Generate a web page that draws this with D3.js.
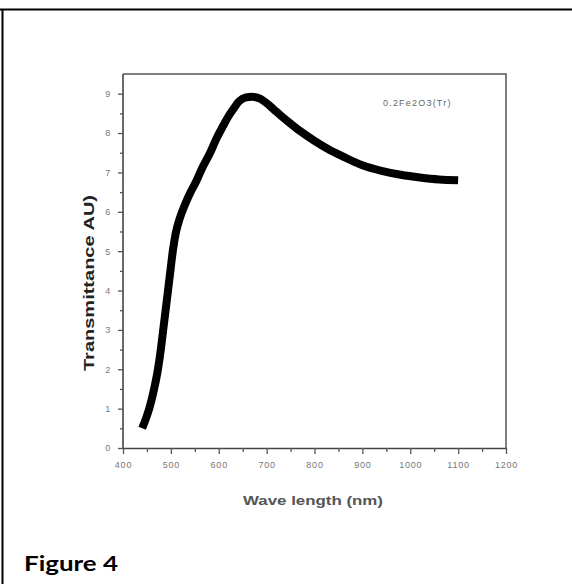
<!DOCTYPE html>
<html>
<head>
<meta charset="utf-8">
<script src="https://cdn.jsdelivr.net/npm/d3@7/dist/d3.min.js"></script>
<style>
  html, body { margin: 0; padding: 0; background: #fff; }
  svg { display: block; }
</style>
</head>
<body>
<svg id="chart" width="572" height="584"></svg>
<script>
// ---- data ----
const wavelength = [440, 448, 456, 465, 473, 479, 484, 489, 494, 499, 504, 510, 519, 530, 540, 552, 565, 582, 596, 609, 620, 630, 642, 655, 670, 685, 700, 715, 730, 750, 770, 800, 830, 860, 900, 940, 980, 1020, 1060, 1100];
const transmittance = [0.5, 0.75, 1.05, 1.5, 2.0, 2.5, 3.0, 3.5, 4.0, 4.5, 5.0, 5.45, 5.85, 6.2, 6.47, 6.75, 7.1, 7.5, 7.88, 8.18, 8.42, 8.6, 8.8, 8.9, 8.92, 8.88, 8.76, 8.6, 8.44, 8.24, 8.05, 7.8, 7.58, 7.4, 7.18, 7.04, 6.94, 6.87, 6.82, 6.8];
const xTicks = [400, 500, 600, 700, 800, 900, 1000, 1100, 1200];
const yTicks = [0, 1, 2, 3, 4, 5, 6, 7, 8, 9];
const seriesLabel = "0.2Fe2O3(Tr)";
const xTitle = "Wave length (nm)";
const yTitle = "Transmittance AU)";
const figureCaption = "Figure 4";

const svg = d3.select("#chart");

// outer page border (top and left)
svg.append("line").attr("x1", 0).attr("x2", 572).attr("y1", 9.5).attr("y2", 9.5)
  .attr("stroke", "#000").attr("stroke-width", 2);
svg.append("line").attr("x1", 2.5).attr("x2", 2.5).attr("y1", 9).attr("y2", 584)
  .attr("stroke", "#000").attr("stroke-width", 2);

const L = 123, R = 506, T = 74, B = 448;
const x = d3.scaleLinear().domain([400, 1200]).range([L, R]);
const y = d3.scaleLinear().domain([0, 9.5]).range([B, T]);

// frame top and right
svg.append("path")
  .attr("d", `M${L},${T}H${R}V${B}`)
  .attr("fill", "none").attr("stroke", "#555").attr("stroke-width", 1.5);

// minor ticks
const xMinor = d3.range(450, 1200, 100);
const yMinor = d3.range(0.5, 9.5, 1);

const xAxis = d3.axisBottom(x).tickValues(xTicks).tickSize(6).tickSizeOuter(0).tickPadding(8)
  .tickFormat(d3.format("d"));
const gx = svg.append("g").attr("transform", `translate(0,${B})`).call(xAxis);
const gxm = svg.append("g").attr("transform", `translate(0,${B})`)
  .call(d3.axisBottom(x).tickValues(xMinor).tickSize(4).tickSizeOuter(0).tickFormat(""));
gxm.select(".domain").remove();

const yAxis = d3.axisLeft(y).tickValues(yTicks).tickSize(5).tickSizeOuter(0).tickPadding(7)
  .tickFormat(d3.format("d"));
const gy = svg.append("g").attr("transform", `translate(${L},0)`).call(yAxis);
const gym = svg.append("g").attr("transform", `translate(${L},0)`)
  .call(d3.axisLeft(y).tickValues(yMinor).tickSize(3).tickSizeOuter(0).tickFormat(""));
gym.select(".domain").remove();

[gx, gy, gxm, gym].forEach(g => {
  g.selectAll(".domain").attr("stroke", "#444").attr("stroke-width", 1.6);
  g.selectAll(".tick line").attr("stroke", "#555").attr("stroke-width", 1.3);
  g.selectAll("text").attr("fill", "#777").attr("font-family", "Liberation Sans, Arial, sans-serif")
    .attr("font-size", 9).attr("letter-spacing", 0.8);
});
gy.select(".domain").attr("d", `M0,${B}V${T}`);

// curve
const pts = wavelength.map((w, i) => [w, transmittance[i]]);
svg.append("path")
  .datum(pts)
  .attr("fill", "none")
  .attr("stroke", "#000")
  .attr("stroke-width", 8)
  .attr("stroke-linejoin", "round")
  .attr("stroke-linecap", "butt")
  .attr("d", d3.line().x(d => x(d[0])).y(d => y(d[1])).curve(d3.curveMonotoneX));

// legend label
svg.append("text").attr("x", 383).attr("y", 106)
  .attr("font-family", "Liberation Sans, Arial, sans-serif").attr("font-size", 9)
  .attr("fill", "#666").attr("letter-spacing", 1.2).text(seriesLabel);

// axis titles
svg.append("text")
  .attr("transform", `translate(94,${283}) rotate(-90)`)
  .attr("text-anchor", "middle")
  .attr("font-family", "Liberation Sans, Arial, sans-serif").attr("font-weight", "bold")
  .attr("font-size", 15).attr("fill", "#222")
  .attr("textLength", 176).attr("lengthAdjust", "spacingAndGlyphs")
  .text(yTitle);

svg.append("text")
  .attr("x", 313).attr("y", 505)
  .attr("text-anchor", "middle")
  .attr("font-family", "Liberation Sans, Arial, sans-serif").attr("font-weight", "bold")
  .attr("font-size", 13).attr("fill", "#555")
  .attr("textLength", 140).attr("lengthAdjust", "spacingAndGlyphs")
  .text(xTitle);

svg.append("text")
  .attr("x", 24).attr("y", 571)
  .attr("font-family", "Lato, 'Open Sans', sans-serif").attr("font-weight", "bold")
  .attr("font-size", 20).attr("fill", "#000")
  .attr("textLength", 94).attr("lengthAdjust", "spacingAndGlyphs")
  .text(figureCaption);
</script>
</body>
</html>
